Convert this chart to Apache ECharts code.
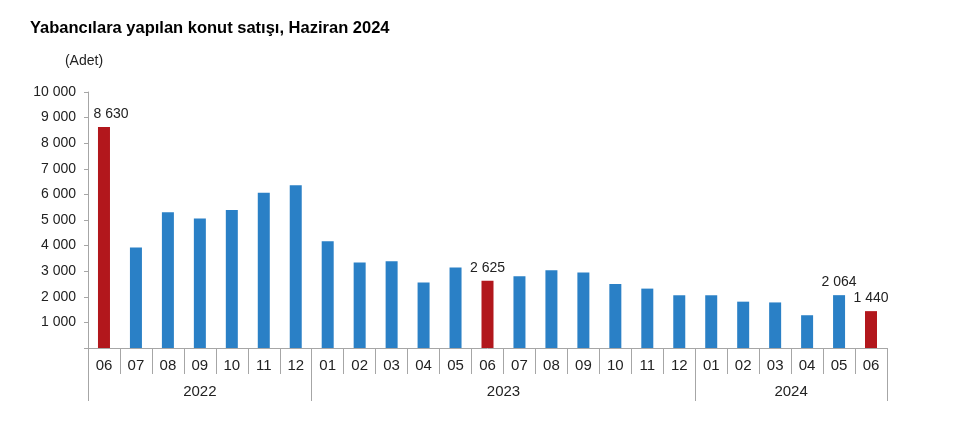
<!DOCTYPE html>
<html>
<head>
<meta charset="utf-8">
<script src="https://cdn.jsdelivr.net/npm/echarts@6/dist/echarts.min.js"></script>
<style>html,body{margin:0;padding:0;background:#fff}#c{width:972px;height:423px}</style>
</head>
<body>
<div id="c"></div>
<script>
// Data
const months = ['06','07','08','09','10','11','12','01','02','03','04','05','06','07','08','09','10','11','12','01','02','03','04','05','06'];
const years  = ['2022','2022','2022','2022','2022','2022','2022','2023','2023','2023','2023','2023','2023','2023','2023','2023','2023','2023','2023','2024','2024','2024','2024','2024','2024'];
const sales  = [8630,3930,5300,5060,5390,6060,6360,4170,3340,3390,2560,3140,2625,2800,3040,2950,2500,2320,2060,2060,1810,1780,1280,2064,1440];
const highlightIdx = [0,12,24];       // red bars (June)
const labelIdx = [0,12,23,24];        // bars with value labels
const yTicks = [0,1000,2000,3000,4000,5000,6000,7000,8000,9000,10000];

const fmt = v => String(v).replace(/\B(?=(\d{3})+(?!\d))/g, ' ');
const FONT = "'Liberation Sans', Arial, sans-serif";
const BLUE = '#2A80C6', RED = '#B2171C', AXIS = '#a6a6a6', TXT = '#222';

// year groups derived from the category list
const bounds = [0], centers = [], centerYear = {};
for (let i = 1; i <= years.length; i++) {
  if (i === years.length || years[i] !== years[i-1]) {
    const s = bounds[bounds.length-1];
    const c = (s + i) / 2;
    centers.push(c); centerYear[c] = years[i-1];
    bounds.push(i);
  }
}

const data = sales.map((v, i) => {
  const item = { value: v, itemStyle: { color: highlightIdx.includes(i) ? RED : BLUE } };
  if (labelIdx.includes(i)) {
    item.label = { show: true, position: 'top', distance: 6, color: TXT, fontSize: 14, fontFamily: FONT,
      formatter: p => fmt(p.value), offset: i === 0 ? [7, 0] : [0, 0] };
  }
  return item;
});

const chart = echarts.init(document.getElementById('c'), null, { renderer: 'canvas' });
chart.setOption({
  animation: false,
  backgroundColor: '#fff',
  title: {
    text: 'Yabancılara yapılan konut satışı, Haziran 2024',
    left: 25, top: 15,
    textStyle: { fontFamily: FONT, fontSize: 16.5, fontWeight: 'bold', color: '#000' }
  },
  grid: { left: 88, right: 85, top: 92, bottom: 75, containLabel: false },
  xAxis: [
    {
      type: 'category', data: months, position: 'bottom',
      axisLine: { show: true, lineStyle: { color: AXIS, width: 1 } },
      axisTick: { show: true, interval: 0, length: 26, lineStyle: { color: AXIS } },
      axisLabel: { interval: 0, margin: 10, fontSize: 15, color: TXT, fontFamily: FONT },
      splitLine: { show: false }
    },
    {
      type: 'value', min: 0, max: years.length, position: 'bottom', gridIndex: 0,
      axisLine: { show: false },
      axisTick: { show: true, customValues: bounds, length: 53, lineStyle: { color: AXIS } },
      axisLabel: { show: true, customValues: centers, margin: 36, fontSize: 15, color: TXT, fontFamily: FONT,
        formatter: v => centerYear[v] || '' },
      splitLine: { show: false }
    }
  ],
  yAxis: {
    type: 'value', min: yTicks[0], max: yTicks[yTicks.length-1], interval: 1000,
    name: '(Adet)', nameLocation: 'end', nameGap: 24,
    nameTextStyle: { fontSize: 14, color: TXT, fontFamily: FONT, align: 'center', padding: [0, 0, 0, -8] },
    axisLine: { show: true, lineStyle: { color: AXIS } },
    axisTick: { show: true, length: 4, lineStyle: { color: AXIS } },
    axisLabel: { fontSize: 14, color: TXT, fontFamily: FONT, margin: 12, formatter: v => v === 0 ? '' : fmt(v) },
    splitLine: { show: false }
  },
  series: [{
    type: 'bar', xAxisIndex: 0, data: data, barWidth: 12
  }]
});
</script>
</body>
</html>
